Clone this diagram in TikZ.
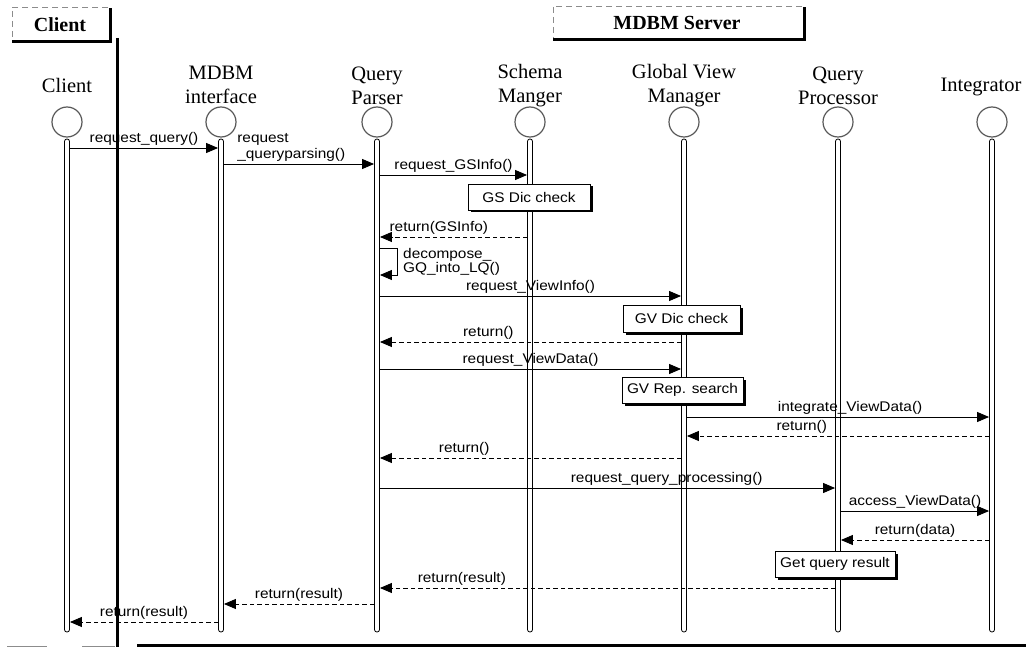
\documentclass[tikz,border=0pt]{standalone}
\usepackage{fontspec}
\setmainfont{Liberation Serif}
\newfontfamily\msgfont[FakeStretch=1.1]{Liberation Sans}
\usetikzlibrary{arrows.meta,shadows}
\begin{document}
\begin{tikzpicture}[x=1pt,y=-1pt,
 lifeline/.style={draw,fill=white,line width=0.8pt,rounded corners=2.4pt,minimum width=5pt,minimum height=493pt,inner sep=0pt},
 actor/.style={circle,draw=black!65,line width=1.2pt,minimum size=30pt,inner sep=0pt},
 role/.style={align=center,font=\fontsize{20.5}{24}\selectfont,inner sep=0pt},
 msg/.style={line width=0.9pt,-{Triangle[length=12pt,width=10pt]}},
 ret/.style={msg,dash pattern=on 4.5pt off 3pt},
 lblfont/.style={font=\msgfont\fontsize{14}{16}\selectfont},
 lbl/.style={lblfont,inner sep=1pt,above=1.5pt},
 notebox/.style={draw,fill=white,line width=0.8pt,lblfont,inner sep=0pt,
   drop shadow={shadow xshift=2.5pt,shadow yshift=-2.5pt,fill=black,opacity=1}},
 thickedge/.style={line width=3pt},
 faintedge/.style={draw=black!45,line width=0.8pt,dash pattern=on 6pt off 4pt},
 header/.style={font=\bfseries\fontsize{20}{24}\selectfont,inner sep=0pt}]
\useasboundingbox (0,0) rectangle (1026,647);
\fill[white] (0,0) rectangle (1026,647);

% header boxes and frame
\draw[faintedge] (108,7) -- (12,7) -- (12,42);
\draw[thickedge] (12,42) -- (110,42) -- (110,8);
\node[header] (hC) at (60,25) {Client};
\draw[faintedge] (802,6) -- (553,6) -- (553,40);
\draw[thickedge] (553,40) -- (804,40) -- (804,7);
\node[header] (hS) at (677,23) {MDBM Server};
\draw[thickedge] (117,38) -- (117,647);
\draw[thickedge] (137,645) -- (1026,645);
\draw[draw=black!45,line width=0.8pt] (7,646) -- (47,646) (82,646) -- (115,646);

% roles
\node[role] (rC) at (67,85) {Client};
\node[role] (rI) at (221,85) {MDBM\\interface};
\node[role] (rP) at (377,86) {Query\\Parser};
\node[role] (rS) at (530,86) {Schema\\Manger};
\node[role] (rG) at (684,86) {Global View\\Manager};
\node[role] (rQ) at (838,86) {Query\\Processor};
\node[role] (rT) at (981,87) {Integrator};

\foreach \n/\x in {C/67,I/221,P/377,S/530,G/684,Q/838,T/992} {
  \node[actor] (a\n) at (\x,122) {};
  \node[lifeline] (l\n) at (\x,385.5) {};
}

% messages
\draw[msg] (lC.east |- 0,148) -- node[lbl]{request\_query()} (lI.west |- 0,148);
\draw[msg] (lI.east |- 0,164) -- node[lblfont,at start,anchor=south west,align=left,inner sep=0pt,xshift=13pt,yshift=2pt]{request\\\_queryparsing()} (lP.west |- 0,164);
\draw[msg] (lP.east |- 0,175) -- node[lbl]{request\_GSInfo()} (lS.west |- 0,175);
\node[notebox,minimum width=122pt,minimum height=26pt] (bGS) at (529,197) {GS Dic check};
\draw[ret] (lS.west |- 0,237) -- node[lbl,pos=0.6]{return(GSInfo)} (lP.east |- 0,237);
\draw[msg] (lP.east |- 0,248) -- ++(18,0) -- ++(0,27) -- (lP.east |- 0,275);
\node[lblfont,anchor=west,align=left,inner sep=0pt,font=\msgfont\fontsize{14}{13}\selectfont] (dLQ) at (403,262) {decompose\_\\GQ\_into\_LQ()};
\draw[msg] (lP.east |- 0,296) -- node[lbl]{request\_ViewInfo()} (lG.west |- 0,296);
\node[notebox,minimum width=117pt,minimum height=27pt] (bGV) at (681.5,318.5) {GV Dic check};
\draw[ret] (lG.west |- 0,342) -- node[lbl,pos=0.64]{return()} (lP.east |- 0,342);
\draw[msg] (lP.east |- 0,369) -- node[lbl]{request\_ViewData()} (lG.west |- 0,369);
\node[notebox,minimum width=121pt,minimum height=26pt] (bRep) at (682.5,390) {GV Rep. search};
\draw[msg] (lG.east |- 0,417) -- node[lbl,pos=0.54]{integrate\_ViewData()} (lT.west |- 0,417);
\draw[ret] (lT.west |- 0,436) -- node[lbl,pos=0.62]{return()} (lG.east |- 0,436);
\draw[ret] (lG.west |- 0,458) -- node[lbl,pos=0.72]{return()} (lP.east |- 0,458);
\draw[msg] (lP.east |- 0,488) -- node[lbl,pos=0.63]{request\_query\_processing()} (lQ.west |- 0,488);
\draw[msg] (lQ.east |- 0,511) -- node[lbl]{access\_ViewData()} (lT.west |- 0,511);
\draw[ret] (lT.west |- 0,540) -- node[lbl]{return(data)} (lQ.east |- 0,540);
\node[notebox,minimum width=120pt,minimum height=26pt] (bRes) at (835,564) {Get query result};
\draw[ret] (lQ.west |- 0,588) -- node[lbl,pos=0.82]{return(result)} (lP.east |- 0,588);
\draw[ret] (lP.west |- 0,604) -- node[lbl]{return(result)} (lI.east |- 0,604);
\draw[ret] (lI.west |- 0,622) -- node[lbl]{return(result)} (lC.east |- 0,622);
\end{tikzpicture}
\end{document}
